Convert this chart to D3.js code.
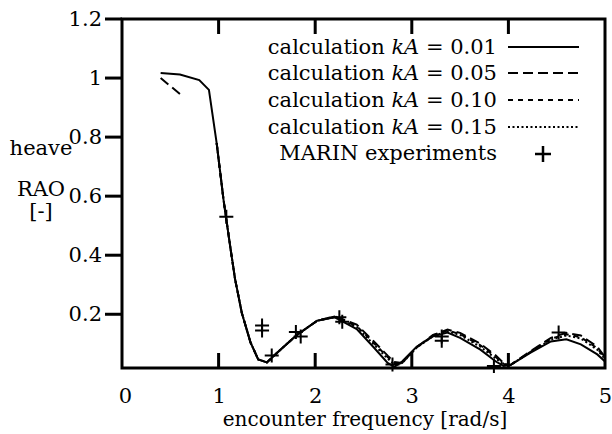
<!DOCTYPE html>
<html>
<head>
<meta charset="utf-8">
<script src="https://cdn.jsdelivr.net/npm/d3@7"></script>
<style>
  body { margin: 0; background: #fff; }
  svg text { font-family: "DejaVu Serif", serif; fill: #000; font-size: 21px; }
</style>
</head>
<body>
<div id="chart"></div>
<script>
// encounter frequency [rad/s]
var freq = [0.4, 0.6, 0.8, 0.9, 0.98, 1.05, 1.12, 1.17, 1.24, 1.33, 1.41, 1.5, 1.64, 1.81, 2.02, 2.2, 2.43, 2.6, 2.75, 2.82, 2.9, 3.05, 3.22, 3.37, 3.5, 3.71, 3.87, 3.95, 4.02, 4.23, 4.44, 4.6, 4.75, 4.92, 5.0];

var rao001 = [1.017, 1.012, 0.993, 0.96, 0.78, 0.59, 0.43, 0.32, 0.205, 0.105, 0.047, 0.037, 0.08, 0.13, 0.178, 0.19, 0.15, 0.09, 0.035, 0.022, 0.04, 0.09, 0.125, 0.138, 0.12, 0.08, 0.04, 0.025, 0.028, 0.07, 0.108, 0.115, 0.098, 0.064, 0.04];
var rao005 = [1.0, 0.946, null, null, 0.78, 0.59, 0.43, 0.32, 0.205, 0.105, 0.047, 0.037, 0.08, 0.13, 0.178, 0.193, 0.165, 0.11, 0.06, 0.038, 0.035, 0.088, 0.13, 0.148, 0.137, 0.1, 0.06, 0.035, 0.028, 0.075, 0.12, 0.137, 0.128, 0.09, 0.055];
var rao010 = [null, null, null, null, 0.78, 0.59, 0.43, 0.32, 0.205, 0.105, 0.047, 0.037, 0.08, 0.13, 0.178, 0.192, 0.16, 0.105, 0.055, 0.034, 0.035, 0.088, 0.128, 0.145, 0.133, 0.095, 0.055, 0.032, 0.028, 0.073, 0.117, 0.132, 0.122, 0.085, 0.05];
var rao015 = [null, null, null, null, 0.78, 0.59, 0.43, 0.32, 0.205, 0.105, 0.047, 0.037, 0.08, 0.13, 0.178, 0.19, 0.157, 0.1, 0.05, 0.03, 0.035, 0.087, 0.126, 0.142, 0.13, 0.09, 0.05, 0.03, 0.028, 0.072, 0.114, 0.128, 0.118, 0.08, 0.048];

// MARIN experiments
var expFreq = [1.08, 1.45, 1.45, 1.55, 1.80, 1.85, 2.25, 2.28, 2.80, 3.31, 3.31, 3.85, 4.52];
var expRao  = [0.53, 0.162, 0.145, 0.06, 0.14, 0.125, 0.19, 0.175, 0.03, 0.125, 0.11, 0.025, 0.138];

var xTicks = [0, 1, 2, 3, 4, 5];
var xTicksTop = [1, 2, 3, 4];
var yTicks = [0.2, 0.4, 0.6, 0.8, 1, 1.2];

var legendLabels = ["0.01", "0.05", "0.10", "0.15"];
var dashes = [null, "10,5", "5,5", "2,2.5"];

var W = 612, H = 434;
var margin = { left: 122, right: 605, top: 19, bottom: 368 };

var x = d3.scaleLinear().domain([0, 5]).range([margin.left, margin.right]);
var y = d3.scaleLinear().domain([0.018, 1.2]).range([margin.bottom, margin.top]);

var svg = d3.select('#chart').append('svg')
  .attr('width', W)
  .attr('height', H);

// frame
svg.append('rect')
  .attr('x', margin.left).attr('y', margin.top)
  .attr('width', margin.right - margin.left).attr('height', margin.bottom - margin.top)
  .attr('fill', 'none').attr('stroke', '#000').attr('stroke-width', 3);

// tick marks, drawn as rectangles so they stay solid
var tickG = svg.append('g').attr('fill', '#000');
tickG.selectAll('rect.tb').data(xTicksTop).enter().append('rect')
  .attr('class', 'tb')
  .attr('x', function(d) { return x(d) - 1.5; }).attr('y', margin.bottom - 15)
  .attr('width', 3).attr('height', 15);
tickG.selectAll('rect.tt').data(xTicksTop).enter().append('rect')
  .attr('class', 'tt')
  .attr('x', function(d) { return x(d) - 1.5; }).attr('y', margin.top)
  .attr('width', 3).attr('height', 15);
tickG.selectAll('rect.ty').data(yTicks).enter().append('rect')
  .attr('class', 'ty')
  .attr('x', margin.left - 17).attr('y', function(d) { return y(d) - 1.5; })
  .attr('width', 17).attr('height', 3);

// curves
var series = [rao001, rao005, rao010, rao015];
var line = d3.line()
  .defined(function(d) { return d[1] != null; })
  .x(function(d) { return x(d[0]); })
  .y(function(d) { return y(d[1]); });

series.forEach(function(s, i) {
  svg.append('path')
    .datum(freq.map(function(f, j) { return [f, s[j]]; }))
    .attr('d', line)
    .attr('fill', 'none')
    .attr('stroke', '#000')
    .attr('stroke-width', 2)
    .attr('stroke-dasharray', dashes[i]);
});

// experiment markers
var cross = 7;
svg.append('g').selectAll('path').data(expFreq)
  .enter().append('path')
    .attr('d', function(d, i) {
      var cx = x(d), cy = y(expRao[i]);
      return 'M' + (cx - cross) + ',' + cy + 'H' + (cx + cross) +
             'M' + cx + ',' + (cy - cross) + 'V' + (cy + cross);
    })
    .attr('stroke', '#000')
    .attr('stroke-width', 2);

// axes labels
var xAxisB = d3.axisBottom(x).tickValues(xTicks).tickSize(0).tickPadding(20).tickFormat(d3.format('d'));
var yAxis = d3.axisLeft(y).tickValues(yTicks).tickSize(0).tickPadding(20)
  .tickFormat(function(d) { return d === 1 ? '1' : d3.format('.1f')(d); });

var gx = svg.append('g').attr('transform', 'translate(0,' + margin.bottom + ')').call(xAxisB);
var gy = svg.append('g').attr('transform', 'translate(' + margin.left + ',0)').call(yAxis);

[gx, gy].forEach(function(g) {
  g.select('.domain').remove();
  g.selectAll('text').style('font-family', '"DejaVu Serif", serif').style('font-size', '21px').attr('fill', '#000');
});
gx.selectAll('.tick').filter(function(d) { return d === 0; }).select('text').attr('dx', 3);

// axis titles
svg.append('text').attr('x', 365).attr('y', 426).attr('text-anchor', 'middle')
  .style('font-size', '20px')
  .text('encounter frequency [rad/s]');
var yTitle = ['heave', 'RAO', '[-]'];
var yTitleY = [155, 196, 218];
yTitle.forEach(function(t, i) {
  svg.append('text').attr('x', 41).attr('y', yTitleY[i]).attr('text-anchor', 'middle')
    .text(t);
});

// legend
var rowY = [54, 80, 107, 134, 160];
legendLabels.forEach(function(lab, i) {
  var t = svg.append('text').attr('x', 497).attr('y', rowY[i]).attr('text-anchor', 'end');
  t.append('tspan').text('calculation ');
  t.append('tspan').style('font-style', 'italic').text('kA');
  t.append('tspan').text(' = ' + lab);
  svg.append('line')
    .attr('x1', 508).attr('x2', 579)
    .attr('y1', rowY[i] - 7).attr('y2', rowY[i] - 7)
    .attr('stroke', '#000').attr('stroke-width', 2)
    .attr('stroke-dasharray', dashes[i]);
});
svg.append('text').attr('x', 497).attr('y', rowY[4]).attr('text-anchor', 'end')
  .text('MARIN experiments');
svg.append('path')
  .attr('d', 'M535,' + (rowY[4] - 6) + 'H551M543,' + (rowY[4] - 14) + 'V' + (rowY[4] + 2))
  .attr('stroke', '#000').attr('stroke-width', 2.5);
</script>
</body>
</html>
